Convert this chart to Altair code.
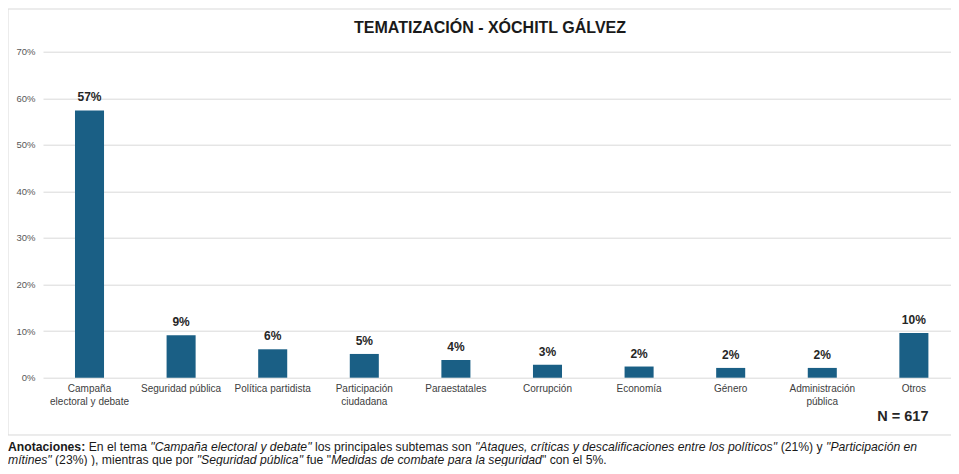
import altair as alt
import pandas as pd

# ---------------- data ----------------
categories = [
    "Campaña\nelectoral y debate",
    "Seguridad pública",
    "Política partidista",
    "Participación\nciudadana",
    "Paraestatales",
    "Corrupción",
    "Economía",
    "Género",
    "Administración\npública",
    "Otros",
]
shares = [0.574, 0.091, 0.061, 0.051, 0.038, 0.028, 0.024, 0.021, 0.021, 0.096]
y_ticks = [0.0, 0.1, 0.2, 0.3, 0.4, 0.5, 0.6, 0.7]

title_text = "TEMATIZACIÓN - XÓCHITL GÁLVEZ"
n_text = "N = 617"

# footer: (text, style) segments per line
footer_line1 = [
    ("Anotaciones:", "bold"),
    (" En el tema ", "normal"),
    ('"Campaña electoral y debate"', "italic"),
    (" los principales subtemas son ", "normal"),
    ('"Ataques, críticas y descalificaciones entre los políticos"', "italic"),
    (" (21%) y ", "normal"),
    ('"Participación en', "italic"),
]
footer_line2 = [
    ('mítines"', "italic"),
    (" (23%) ), mientras que por ", "normal"),
    ('"Seguridad pública"', "italic"),
    (' fue "', "normal"),
    ("Medidas de combate para la seguridad", "italic"),
    ('" con el 5%.', "normal"),
]

# ---------------- text metrics (Arial / Liberation Sans, 1/1000 em) ----------------
W_REG = {" ": 278, "!": 278, '"': 355, "%": 889, "(": 333, ")": 333, ",": 278, "-": 333,
         ".": 278, ":": 278, "=": 584}
for d in "0123456789":
    W_REG[d] = 556
W_REG.update(dict(A=667, B=667, C=722, D=722, E=667, F=611, G=778, H=722, I=278, J=500,
                  K=667, L=556, M=833, N=722, O=778, P=667, Q=778, R=722, S=667, T=611,
                  U=722, V=667, W=944, X=667, Y=667, Z=611))
W_REG.update(dict(a=556, b=556, c=500, d=556, e=556, f=278, g=556, h=556, i=222, j=222,
                  k=500, l=222, m=833, n=556, o=556, p=556, q=556, r=333, s=500, t=278,
                  u=556, v=500, w=722, x=500, y=500, z=500))
W_REG.update({"á": 556, "é": 556, "í": 278, "ó": 556, "ú": 556, "ñ": 556})
W_BOLD = {" ": 278, ":": 333, "A": 722, "a": 556, "c": 556, "e": 556, "i": 278,
          "n": 611, "o": 611, "s": 556, "t": 333}


def em(s, style):
    table = W_BOLD if style == "bold" else W_REG
    return sum(table.get(ch, 556) for ch in s) / 1000.0


line1_em = sum(em(t, s) for t, s in footer_line1)
FOOT_FS = min(12.2, 920.0 / line1_em)

X0 = -35.0  # page x = 8
rows = []
for line, py in ((footer_line1, 395.5), (footer_line2, 408.5)):
    cx = X0
    for t, s in line:
        lead = len(t) - len(t.lstrip(" "))
        rows.append({"text": t.strip(" "), "style": s,
                     "px": cx + lead * 0.278 * FOOT_FS, "py": py})
        cx += em(t, s) * FOOT_FS
footer_df = pd.DataFrame(rows)

df = pd.DataFrame({"cat": categories, "share": shares})
one = pd.DataFrame({"k": [0]})

FONT = "Liberation Sans"
BAR = "#1a5f85"

# ---------------- chart ----------------
xenc = alt.X(
    "cat:N",
    sort=categories,
    title=None,
    scale=alt.Scale(paddingInner=0.683, paddingOuter=0.298, align=0.586),
    axis=alt.Axis(
        labelExpr="split(datum.label, '\\n')",
        labelAngle=0,
        labelFontSize=10,
        labelColor="#404040",
        labelFont=FONT,
        labelLineHeight=12.5,
        labelPadding=6,
        labelOverlap=False,
        labelLimit=200,
        domain=False,
        ticks=False,
        grid=False,
    ),
)
yenc = alt.Y(
    "share:Q",
    title=None,
    scale=alt.Scale(domain=[0, 0.7], nice=False),
    axis=alt.Axis(
        values=y_ticks,
        format=".0%",
        labelFontSize=9.5,
        labelColor="#595959",
        labelFont=FONT,
        labelPadding=8,
        domain=False,
        ticks=False,
        grid=True,
        gridColor="#d9d9d9",
        gridWidth=1,
    ),
)

frame = alt.Chart(one).mark_rect(
    fillOpacity=0, stroke="#d9d9d9", strokeWidth=1
).encode(
    x=alt.value(-35), x2=alt.value(1000), y=alt.value(-42.7), y2=alt.value(383.3)
)

bars = alt.Chart(df).mark_bar(color=BAR).encode(x=xenc, y=yenc)

values = alt.Chart(df).mark_text(
    dy=-6, baseline="bottom", fontWeight="bold", fontSize=12, color="#262626", font=FONT
).encode(
    x=alt.X("cat:N", sort=categories),
    y=alt.Y("share:Q"),
    text=alt.Text("share:Q", format=".0%"),
)

title = alt.Chart(one).mark_text(
    fontSize=16, fontWeight="bold", color="#1a1a1a", font=FONT, baseline="middle", align="center"
).encode(x=alt.value(447), y=alt.value(-23.5), text=alt.value(title_text))

ntext = alt.Chart(one).mark_text(
    fontSize=14.5, fontWeight="bold", color="#262626", font=FONT, baseline="middle", align="right"
).encode(x=alt.value(885.5), y=alt.value(365.5), text=alt.value(n_text))


def foot_layer(style):
    kw = dict(fontSize=FOOT_FS, font=FONT, color="#1a1a1a", align="left", baseline="middle")
    if style == "bold":
        kw["fontWeight"] = "bold"
    elif style == "italic":
        kw["fontStyle"] = "italic"
    return (
        alt.Chart(footer_df)
        .transform_filter(alt.datum.style == style)
        .mark_text(**kw)
        .encode(
            x=alt.X("px:Q", scale=None),
            y=alt.Y("py:Q", scale=None),
            text="text:N",
        )
    )


chart = (
    alt.layer(
        frame, bars, values, title, ntext,
        foot_layer("bold"), foot_layer("normal"), foot_layer("italic"),
    )
    .resolve_scale(x="shared", y="shared")
    .properties(
        width=908,
        height=326,
        autosize=alt.AutoSizeParams(type="none"),
        padding={"left": 35, "top": 43.7, "right": 0, "bottom": 88.3},
        background="white",
    )
    .configure_view(strokeWidth=0)
)

chart.save("out.html", embed_options={"renderer": "svg", "actions": False})
